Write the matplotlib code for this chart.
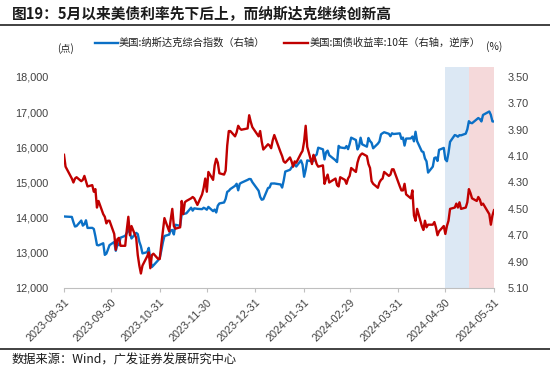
import matplotlib
matplotlib.use('Agg')
import matplotlib.pyplot as plt
import matplotlib.dates as mdates
from matplotlib.lines import Line2D
import numpy as np
import pandas as pd

plt.rcParams['font.family'] = ['Liberation Sans', 'Noto Sans CJK SC', 'DejaVu Sans']

######data#####################################################################

# trading days, one line per month
trade_days = {
    '2023-08': [31],
    '2023-09': [1, 5, 6, 7, 8, 11, 12, 13, 14, 15, 18, 19, 20, 21, 22, 25, 26, 27, 28, 29],
    '2023-10': [2, 3, 4, 5, 6, 9, 10, 11, 12, 13, 16, 17, 18, 19, 20, 23, 24, 25, 26, 27, 30, 31],
    '2023-11': [1, 2, 3, 6, 7, 8, 9, 10, 13, 14, 15, 16, 17, 20, 21, 22, 24, 27, 28, 29, 30],
    '2023-12': [1, 4, 5, 6, 7, 8, 11, 12, 13, 14, 15, 18, 19, 20, 21, 22, 26, 27, 28, 29],
    '2024-01': [2, 3, 4, 5, 8, 9, 10, 11, 12, 16, 17, 18, 19, 22, 23, 24, 25, 26, 29, 30, 31],
    '2024-02': [1, 2, 5, 6, 7, 8, 9, 12, 13, 14, 15, 16, 20, 21, 22, 23, 26, 27, 28, 29],
    '2024-03': [1, 4, 5, 6, 7, 8, 11, 12, 13, 14, 15, 18, 19, 20, 21, 22, 25, 26, 27, 28],
    '2024-04': [1, 2, 3, 4, 5, 8, 9, 10, 11, 12, 15, 16, 17, 18, 19, 22, 23, 24, 25, 26, 29, 30],
    '2024-05': [1, 2, 3, 6, 7, 8, 9, 10, 13, 14, 15, 16, 17, 20, 21, 22, 23, 24, 28, 29, 30, 31],
}

nasdaq = [
    14035,
    14031, 14021, 13872, 13748, 13762, 13918, 13774, 13814, 13926, 13708, 13710, 13679, 13470, 13224, 13212, 13272, 12942, 12977, 13093, 13219,
    13308, 13059, 13236, 13220, 13431, 13484, 13563, 13659, 13575, 13408, 13568, 13534, 13315, 13187, 12984, 13019, 13140, 12821, 12596, 12643, 12790, 12851,
    13061, 13294, 13478, 13518, 13640, 13650, 13522, 13798, 13768, 14094, 14104, 14114, 14125, 14284, 14200, 14266, 14251, 14242, 14282, 14259, 14226,
    14306, 14185, 14230, 14147, 14340, 14404, 14432, 14534, 14734, 14762, 14814, 14905, 14964, 14778, 14964, 14993, 15075, 15100, 15096, 15011,
    14766, 14592, 14510, 14524, 14843, 14858, 14970, 14970, 14973, 14944, 14856, 15056, 15311, 15361, 15426, 15482, 15511, 15455, 15628, 15510, 15164,
    15361, 15629, 15598, 15610, 15757, 15794, 15990, 15943, 15656, 15860, 15906, 15776, 15631, 15581, 16041, 15997, 15976, 16036, 15948, 16092,
    16275, 16208, 15940, 16032, 16273, 16085, 16019, 16266, 16178, 16129, 15973, 16104, 16166, 16369, 16402, 16429, 16385, 16316, 16400, 16379,
    16397, 16241, 16277, 16050, 16249, 16253, 16307, 16171, 16443, 16175, 15885, 15866, 15684, 15602, 15282, 15451, 15697, 15713, 15612, 15928, 15983, 15658,
    15605, 15841, 16156, 16349, 16333, 16302, 16346, 16341, 16389, 16512, 16743, 16698, 16686, 16795, 16833, 16802, 16736, 16921, 17019, 16921, 16737, 16735,
]

ust10y = [
    4.09,
    4.18, 4.27, 4.30, 4.27, 4.26, 4.29, 4.28, 4.25, 4.29, 4.33, 4.32, 4.37, 4.35, 4.49, 4.44, 4.54, 4.56, 4.61, 4.59, 4.59,
    4.69, 4.81, 4.73, 4.72, 4.78, 4.78, 4.66, 4.56, 4.70, 4.63, 4.72, 4.85, 4.93, 4.99, 4.93, 4.86, 4.83, 4.95, 4.85, 4.84, 4.88, 4.88,
    4.77, 4.67, 4.57, 4.67, 4.58, 4.50, 4.63, 4.65, 4.64, 4.44, 4.54, 4.45, 4.44, 4.42, 4.41, 4.42, 4.47, 4.39, 4.34, 4.27, 4.37,
    4.22, 4.28, 4.17, 4.12, 4.15, 4.23, 4.24, 4.21, 4.02, 3.91, 3.91, 3.95, 3.92, 3.87, 3.89, 3.90, 3.89, 3.79, 3.84, 3.88,
    3.95, 3.91, 3.99, 4.05, 4.01, 4.02, 4.04, 3.98, 3.94, 4.07, 4.10, 4.14, 4.15, 4.11, 4.14, 4.18, 4.14, 4.15, 4.08, 4.06, 3.99,
    3.87, 4.03, 4.16, 4.09, 4.12, 4.16, 4.18, 4.17, 4.31, 4.27, 4.24, 4.30, 4.27, 4.32, 4.33, 4.26, 4.28, 4.31, 4.27, 4.25,
    4.19, 4.22, 4.15, 4.11, 4.09, 4.08, 4.10, 4.16, 4.19, 4.29, 4.31, 4.34, 4.30, 4.28, 4.27, 4.22, 4.25, 4.24, 4.20, 4.20,
    4.33, 4.36, 4.36, 4.31, 4.39, 4.42, 4.36, 4.55, 4.59, 4.50, 4.63, 4.66, 4.59, 4.64, 4.62, 4.62, 4.60, 4.64, 4.70, 4.67, 4.63, 4.69,
    4.63, 4.59, 4.50, 4.49, 4.46, 4.49, 4.45, 4.50, 4.49, 4.45, 4.35, 4.38, 4.42, 4.44, 4.41, 4.43, 4.47, 4.46, 4.54, 4.62, 4.55, 4.51,
]

tick_dates = ['2023-08-31', '2023-09-30', '2023-10-31', '2023-11-30', '2023-12-31',
              '2024-01-31', '2024-02-29', '2024-03-31', '2024-04-30', '2024-05-31']
left_ticks = [12000, 13000, 14000, 15000, 16000, 17000, 18000]
right_ticks = [3.50, 3.70, 3.90, 4.10, 4.30, 4.50, 4.70, 4.90, 5.10]
span_blue = ('2024-04-30', '2024-05-15')
span_red = ('2024-05-15', '2024-05-31')

dates = pd.to_datetime([m + '-%02d' % d for m, days in trade_days.items() for d in days])

######plot#####################################################################

BLUE = '#0B70C6'
RED = '#C00000'
GREY = '#404040'

fig = plt.figure(figsize=(5.5, 3.69), dpi=100)
ax = fig.add_axes([64 / 550, 1 - 288 / 369, 430 / 550, 221 / 369])
ax2 = ax.twinx()

ax.axvspan(pd.Timestamp(span_blue[0]), pd.Timestamp(span_blue[1]), color='#DCE8F4', lw=0, zorder=0)
ax.axvspan(pd.Timestamp(span_red[0]), pd.Timestamp(span_red[1]), color='#F5D9DA', lw=0, zorder=0)

ax.plot(dates, nasdaq, color=BLUE, lw=1.7, zorder=3)
ax2.plot(dates, ust10y, color=RED, lw=1.7, zorder=3)

ax.set_ylim(12000, 18000 + 10 / 35.17 * 1000)
ax2.set_ylim(5.10, 3.50 - 10 / 131.9)
ax.set_xlim(pd.Timestamp('2023-08-31'), pd.Timestamp('2024-05-31'))

ax.set_yticks(left_ticks)
ax.set_yticklabels(['{:,}'.format(v) for v in left_ticks])
ax2.set_yticks(right_ticks)
ax2.set_yticklabels(['%.2f' % v for v in right_ticks])

ax.set_xticks(pd.to_datetime(tick_dates))
ax.set_xticklabels(tick_dates, rotation=45, ha='right', va='top', rotation_mode='anchor')

for a in (ax, ax2):
    for s in a.spines.values():
        s.set_visible(False)
ax.spines['bottom'].set_visible(True)
ax.spines['bottom'].set_color('#BFBFBF')
ax.spines['bottom'].set_linewidth(0.8)

ax.tick_params(axis='x', length=3, color='#BFBFBF', labelsize=7.8, labelcolor=GREY, pad=3.5)
ax.tick_params(axis='y', length=0, labelsize=7.8, labelcolor=GREY, pad=11)
ax2.tick_params(axis='y', length=0, labelsize=7.8, labelcolor=GREY, pad=10)

cjk = ['Noto Sans CJK SC', 'DejaVu Sans']

# title and rules
fig.text(12 / 550, 1 - 14 / 369, '图19：5月以来美债利率先下后上，而纳斯达克继续创新高',
         fontsize=10.6, fontweight='bold', family=cjk, va='center', ha='left', color='#1a1a1a')
fig.add_artist(Line2D([0, 1], [1 - 24.5 / 369] * 2, color='#333333', lw=1.3))
fig.add_artist(Line2D([0, 1], [1 - 349 / 369] * 2, color='#333333', lw=1.3))
fig.text(12 / 550, 1 - 360 / 369, '数据来源：Wind，广发证券发展研究中心',
         fontsize=8.8, family=cjk, va='center', ha='left', color='#1a1a1a')

# legend
ly = 1 - 43 / 369
fig.add_artist(Line2D([95 / 550, 118 / 550], [ly, ly], color=BLUE, lw=1.7))
fig.text(119 / 550, ly, '美国:纳斯达克综合指数（右轴）', fontsize=7.4, family=cjk,
         va='center', ha='left', color='#222222')
fig.add_artist(Line2D([284 / 550, 308 / 550], [ly, ly], color=RED, lw=1.7))
fig.text(310 / 550, ly, '美国:国债收益率:10年（右轴，逆序）', fontsize=7.4, family=cjk,
         va='center', ha='left', color='#222222')
fig.text(66 / 550, 1 - 49 / 369, '(点)', fontsize=7.2, family=cjk, va='center', ha='center', color='#222222')
fig.text(494 / 550, 1 - 47 / 369, '(%)', fontsize=7.4, family=cjk, va='center', ha='center', color='#222222')

fig.savefig('out.png', dpi=100)
